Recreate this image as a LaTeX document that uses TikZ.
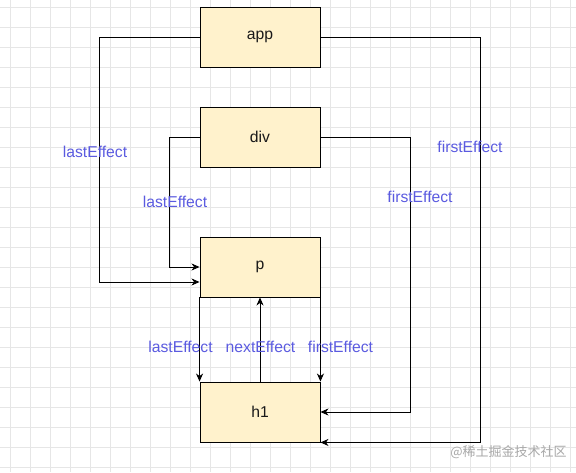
\documentclass[tikz,border=0pt]{standalone}
\usepackage{fontspec}
\setmainfont{Liberation Sans}
\newfontfamily\cjkfont{Noto Sans CJK SC}
\usetikzlibrary{arrows.meta}
\definecolor{boxfill}{HTML}{FFF2CC}
\definecolor{lblblue}{RGB}{91,91,224}
\definecolor{gridcol}{HTML}{E6E6E6}
\definecolor{wmark}{HTML}{A8A8A8}
\tikzset{
  elem/.style={draw=black, fill=boxfill, line width=0.9pt, minimum width=120pt, minimum height=60pt, inner sep=0pt, font=\fontsize{15.7}{18}\selectfont, text=black!90},
  conn/.style={draw=black, line width=0.9pt, -{Stealth[length=8pt,width=7pt,inset=2.5pt]}},
  lbl/.style={text=lblblue, font=\fontsize{15.7}{18}\selectfont, inner sep=0pt},
}
\begin{document}
\begin{tikzpicture}[x=1pt,y=-1pt]
\useasboundingbox (0,0) rectangle (576,472);
\fill[white] (0,0) rectangle (576,472);
\foreach \gx in {10,30,...,570} \draw[gridcol, line width=0.6pt] (\gx,0) -- (\gx,472);
\foreach \gy in {7,27,...,467} \draw[gridcol, line width=0.6pt] (0,\gy) -- (576,\gy);

\node[elem] (app) at (260,37) {app};
\node[elem] (div) at (260,137) {div};
\node[elem] (p) at (260,267) {p};
\node[elem] (h1) at (260,412) {h1};

\draw[conn] (app.west) -- ++(-100,0) |- ([yshift=-15pt]p.west);
\draw[conn] (div.west) -- ++(-30,0) |- (p.west);
\draw[conn] (div.east) -- ++(90,0) |- (h1.east);
\draw[conn] (app.east) -- ++(160,0) |- (h1.south east);
\draw[conn] (p.south west) -- (h1.north west);
\draw[conn] (p.south east) -- (h1.north east);
\draw[conn] (h1.north) -- (p.south);

\node[lbl] (l1) at (95,152) {lastEffect};
\node[lbl] (f1) at (470,147) {firstEffect};
\node[lbl] (l2) at (175,202) {lastEffect};
\node[lbl] (f2) at (420,197) {firstEffect};
\node[lbl] (l3) at (180.5,347) {lastEffect};
\node[lbl] (n3) at (260.5,347) {nextEffect};
\node[lbl] (f3) at (340.5,347) {firstEffect};

\node[text=wmark, font=\cjkfont\fontsize{13}{15}\selectfont, inner sep=0pt] (wm) at (508.5,452) {@稀土掘金技术社区};
\end{tikzpicture}
\end{document}
